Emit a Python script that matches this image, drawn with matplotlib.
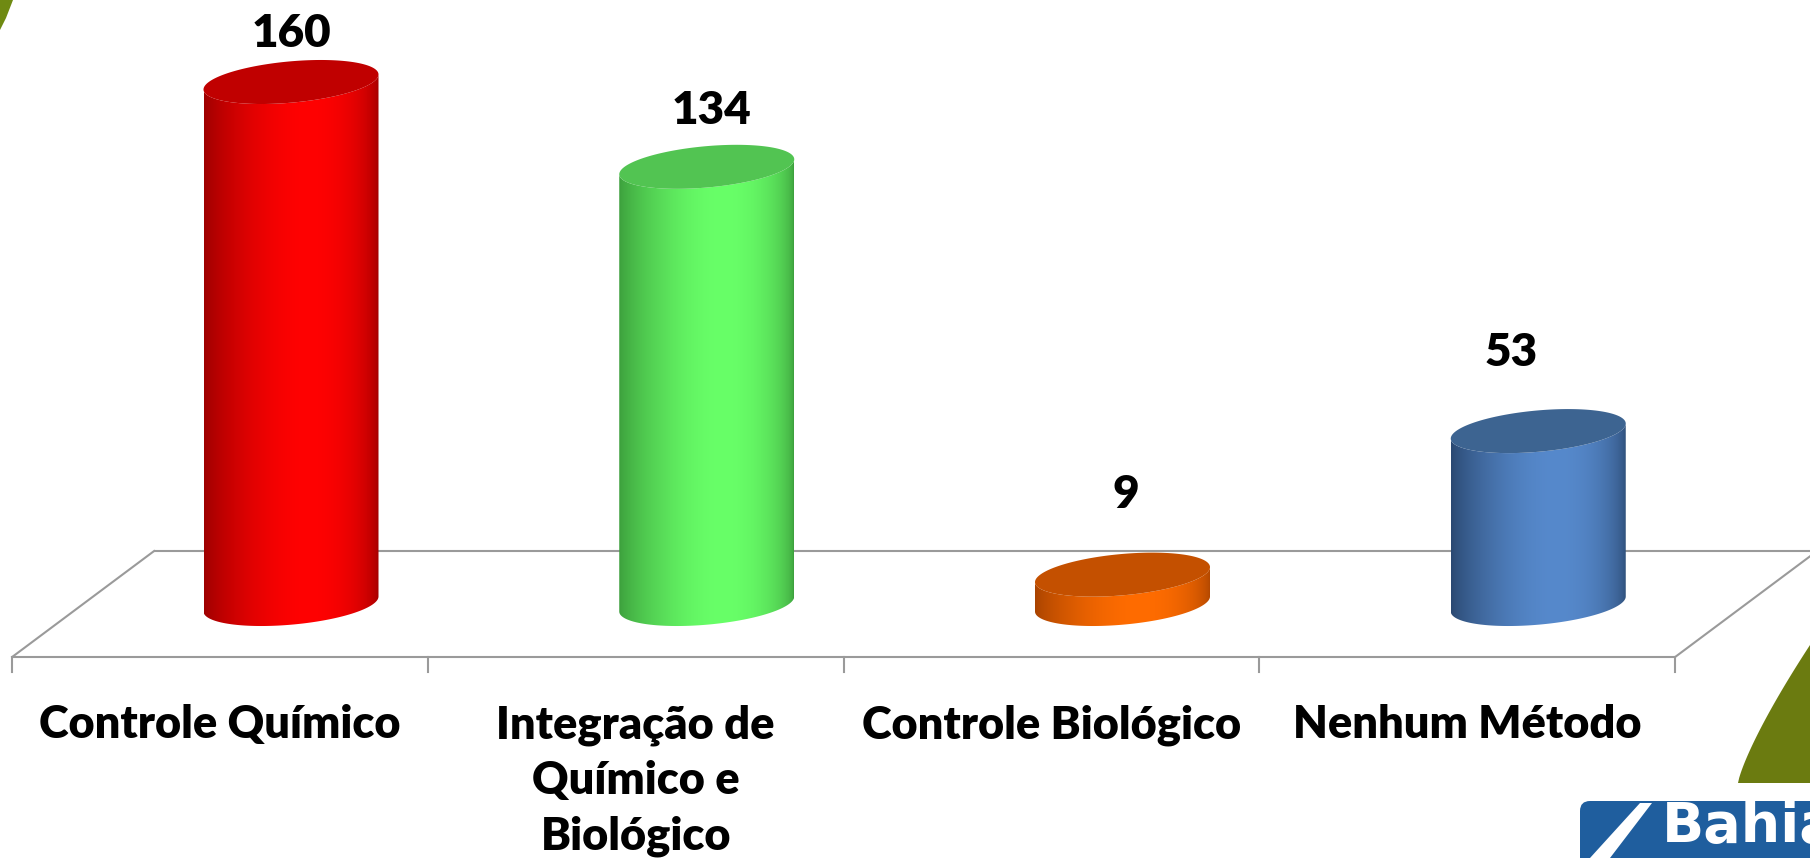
import numpy as np
import matplotlib
matplotlib.use("Agg")
import matplotlib.pyplot as plt
from matplotlib.patches import Polygon, FancyBboxPatch
import matplotlib.colors as mcolors

# ---------------- data ----------------
categories = ["Controle Químico", "Integração de\nQuímico e\nBiológico",
              "Controle Biológico", "Nenhum Método"]
values = [160, 134, 9, 53]
value_labels = ["160", "134", "9", "53"]

# ---------------- styles ----------------
body_dark = ["#9c0000", "#3c9e3c", "#a84300", "#2a4870"]
body_light = ["#ff0202", "#68ff68", "#ff6c00", "#5689cc"]
cap_colors = ["#c00000", "#52c452", "#c45000", "#3d6491"]
label_dx_px = [0, 5, 3, -27]      # label offsets (layout)
label_dy_px = [48, 56, 80, 79]

W, H = 1810, 858
fig = plt.figure(figsize=(W / 100, H / 100), dpi=100)
ax = fig.add_axes([0, 0, 1, 1])
ax.set_axis_off()

px_per_cat = 415.75
px_per_val = 3.2625
x0_px = 291.0
y0_px = 604.0
xlim = (-x0_px / px_per_cat, (W - x0_px) / px_per_cat)
ylim = (-(H - y0_px) / px_per_val, y0_px / px_per_val)

ddx = 71 / px_per_cat      # half depth offset (x)
ddy = 53 / px_per_val      # half depth offset (y)
a = 87.5 / px_per_cat      # cylinder radius (x)
b = 20.7 / px_per_val      # ellipse minor
k = 7.5 / px_per_val       # ellipse tilt

n = len(values)
xs = np.arange(n)

# ---------------- floor ----------------
grid_c = "#9a9a9a"
lw = 1.5
fx0, fx1 = -0.5 - ddx, n - 0.5 - ddx
bx0, bx1 = -0.5 + ddx, n - 0.5 + ddx
ax.plot([fx0, fx1], [-ddy, -ddy], color=grid_c, lw=lw, zorder=1, solid_capstyle="butt")
ax.plot([bx0, bx1], [ddy, ddy], color=grid_c, lw=lw, zorder=1, solid_capstyle="butt")
ax.plot([fx0, bx0], [-ddy, ddy], color=grid_c, lw=lw, zorder=1)
ax.plot([fx1, bx1], [-ddy, ddy], color=grid_c, lw=lw, zorder=1)
tick_len = 15 / px_per_val
for j in range(n + 1):
    tx = j - 0.5 - ddx
    ax.plot([tx, tx], [-ddy, -ddy - tick_len], color=grid_c, lw=lw, zorder=1)


def ell(cx, cy, t):
    return cx + a * np.cos(t), cy + b * np.sin(t) + k * np.cos(t)


u = np.linspace(0, 1, 300)
prof = np.sin(np.pi * u ** 1.357) ** 0.55

for i, v in enumerate(values):
    cx = xs[i]
    t_front = np.linspace(np.pi, 2 * np.pi, 120)
    bxp, byp = ell(cx, 0, t_front)
    txp, typ = ell(cx, v, t_front[::-1])
    verts = np.column_stack([np.r_[bxp, txp], np.r_[byp, typ]])
    poly = Polygon(verts, closed=True, facecolor="none", edgecolor="none")
    ax.add_patch(poly)
    d = np.array(mcolors.to_rgb(body_dark[i]))
    l = np.array(mcolors.to_rgb(body_light[i]))
    grad = d[None, :] + (l - d)[None, :] * prof[:, None]
    img = ax.imshow(grad[None, :, :], extent=[cx - a, cx + a, -b - k - 1, v + b + k + 1],
                    aspect="auto", interpolation="bilinear", zorder=2, origin="lower")
    img.set_clip_path(poly)
    t_all = np.linspace(0, 2 * np.pi, 200)
    cxp, cyp = ell(cx, v, t_all)
    ax.add_patch(Polygon(np.column_stack([cxp, cyp]), closed=True,
                         facecolor=cap_colors[i], edgecolor="none", zorder=3))
    ax.text(cx + label_dx_px[i] / px_per_cat, v + label_dy_px[i] / px_per_val,
            value_labels[i], ha="center", va="center", fontsize=33,
            fontweight="heavy", family="Lato", color="black", zorder=5)

# ---------------- category labels ----------------
lab_y = -ddy - 47 / px_per_val
for i, c in enumerate(categories):
    ax.text(xs[i] - ddx, lab_y, c, ha="center", va="top", fontsize=32.5,
            fontweight="heavy", family="Lato", color="black", linespacing=1.42,
            zorder=5)

ax.set_xlim(*xlim)
ax.set_ylim(*ylim)

# ---------------- slide decorations (figure pixel coords) ----------------
ov = fig.add_axes([0, 0, 1, 1], facecolor="none")
ov.set_xlim(0, W)
ov.set_ylim(H, 0)
ov.set_axis_off()
# top-left green sliver
ov.add_patch(Polygon([[0, 0], [13, 0], [6, 18], [0, 30]], closed=True,
                     facecolor="#6f8a12", edgecolor="none"))
# bottom-right green shape
tt = np.linspace(0, 1, 60)
cxv = 1738 + (1810 - 1738) * tt
cyv = 783 - (783 - 645) * (tt ** 0.8)
gverts = np.column_stack([np.r_[cxv, 1810], np.r_[cyv, 783]])
ov.add_patch(Polygon(gverts, closed=True, facecolor="#6b7b10", edgecolor="none"))
# Bahia logo
ov.add_patch(FancyBboxPatch((1580, 801), 260, 80, boxstyle="round,pad=0,rounding_size=10",
                            facecolor="#1f5e9e", edgecolor="none"))
ov.add_patch(Polygon([[1590, 858], [1640, 803], [1652, 803], [1610, 858]], closed=True,
                     facecolor="white", edgecolor="none"))
ov.text(1662, 800, "Bahia", ha="left", va="top", fontsize=40, fontweight="bold",
        family="DejaVu Sans", color="white")

fig.savefig("out.png", dpi=100)
